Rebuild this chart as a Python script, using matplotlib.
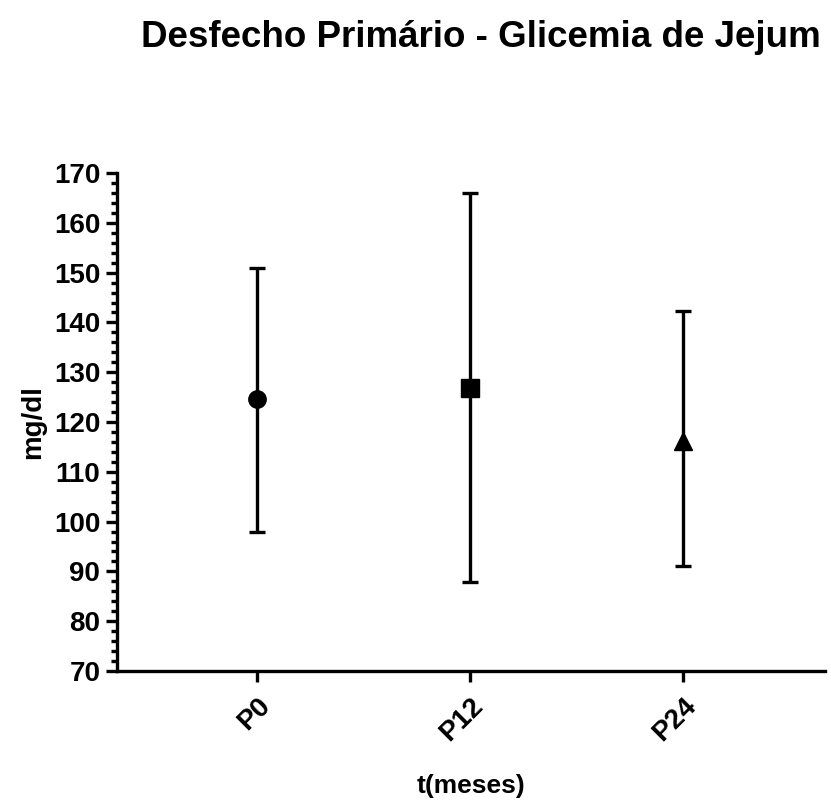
import numpy as np
import matplotlib
matplotlib.use("Agg")
import matplotlib.pyplot as plt
from matplotlib.ticker import MultipleLocator

# Glicemia de jejum: media e limites das barras de erro
grupos = ["P0", "P12", "P24"]
media = [124.6, 126.8, 116.1]
limite_sup = [150.9, 166.0, 142.3]
limite_inf = [97.9, 87.9, 91.1]
marcadores = ["o", "s", "^"]

plt.rcParams['font.family'] = ['Liberation Sans', 'DejaVu Sans']
plt.rcParams['font.weight'] = 'bold'

fig = plt.figure(figsize=(8.31, 8.05), dpi=100)
ax = fig.add_axes([0.1408, 0.1665, 0.852, 0.6185])

lw = 2.4
x = np.arange(len(grupos))
for i in range(len(grupos)):
    err = [[media[i] - limite_inf[i]], [limite_sup[i] - media[i]]]
    ax.errorbar(x[i], media[i], yerr=err, fmt=marcadores[i], color='black',
                ecolor='black', elinewidth=lw, capsize=6, capthick=lw,
                markersize=12.5, zorder=3)

ax.set_ylim(70, 170)
ax.set_xlim(-0.66, 2.67)
ax.yaxis.set_major_locator(MultipleLocator(10))
ax.yaxis.set_minor_locator(MultipleLocator(2))
ax.set_xticks(x)
ax.set_xticklabels(grupos, rotation=45, ha='right', rotation_mode='anchor')

for s in ['top', 'right']:
    ax.spines[s].set_visible(False)
for s in ['left', 'bottom']:
    ax.spines[s].set_linewidth(lw)

ax.tick_params(axis='both', which='major', width=lw, length=8, labelsize=20, pad=4)
ax.tick_params(axis='y', which='minor', width=lw, length=4.5)
ax.tick_params(axis='x', which='major', pad=8)
for lab in ax.get_xticklabels() + ax.get_yticklabels():
    lab.set_fontweight('bold')

ax.set_ylabel('mg/dl', fontsize=20, fontweight='bold', labelpad=6)
ax.set_xlabel('t(meses)', fontsize=19, fontweight='bold', labelpad=20)
fig.text(0.579, 0.954, 'Desfecho Primário - Glicemia de Jejum', fontsize=26.5,
         fontweight='bold', ha='center', va='center')

fig.savefig('out.png', dpi=100)
